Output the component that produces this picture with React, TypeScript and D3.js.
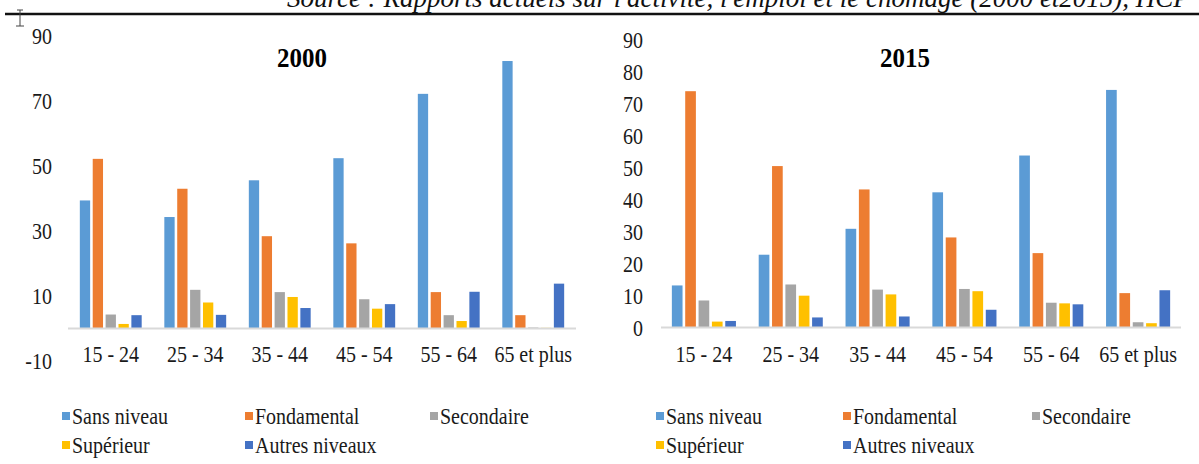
import React from "react";
import * as d3 from "d3";

const categories = ["15 - 24", "25 - 34", "35 - 44", "45 - 54", "55 - 64", "65 et plus"];
const seriesNames = ["Sans niveau", "Fondamental", "Secondaire", "Supérieur", "Autres niveaux"];
const seriesColors = ["#5B9BD5", "#ED7D31", "#A5A5A5", "#FFC000", "#4472C4"];

// 2000
const sans2000 = [39.4, 34.3, 45.6, 52.4, 72.2, 82.3];
const fond2000 = [52.2, 43.0, 28.4, 26.2, 11.2, 4.1];
const sec2000 = [4.3, 11.9, 11.2, 9.0, 4.1, 0.3];
const sup2000 = [1.4, 8.0, 9.7, 6.1, 2.3, 0.2];
const autres2000 = [4.1, 4.2, 6.3, 7.5, 11.3, 13.8];

// 2015
const sans2015 = [13.3, 22.9, 31.0, 42.4, 53.9, 74.4];
const fond2015 = [74.0, 50.6, 43.3, 28.3, 23.4, 10.9];
const sec2015 = [8.6, 13.6, 12.0, 12.2, 7.9, 1.8];
const sup2015 = [2.0, 10.1, 10.5, 11.5, 7.7, 1.5];
const autres2015 = [2.2, 3.3, 3.6, 5.7, 7.4, 11.8];

const ticks2000 = [90, 70, 50, 30, 10, -10];
const ticks2015 = [90, 80, 70, 60, 50, 40, 30, 20, 10, 0];

const sourceText = "Source : Rapports actuels sur l'activité, l'emploi et le chômage (2000 et2015), HCP";

const FONT = "Liberation Serif, DejaVu Serif, serif";
const SY = 1.12;

function T({ x, y, children, anchor = "start", size = 20, weight = 400, style = "normal", fill = "#000" }: any) {
  return (
    <text
      transform={`translate(${x},${y}) scale(1,${SY})`}
      textAnchor={anchor}
      dy="0.35em"
      style={{ fontFamily: FONT, fontSize: size, fontWeight: weight, fontStyle: style }}
      fill={fill}
    >
      {children}
    </text>
  );
}

function Panel({ title, data, domain, rangeY, ticks, xRange, tickX, titleX, axisY, outer, inner, legendX }: any) {
  const x0 = d3.scaleBand<string>().domain(categories).range(xRange).paddingInner(inner).paddingOuter(outer);
  const x1 = d3.scaleBand<string>().domain(seriesNames).range([0, x0.bandwidth()]).paddingInner(0.2).paddingOuter(0);
  const y = d3.scaleLinear().domain(domain).range(rangeY);
  const legendCols = [legendX[0], legendX[1], legendX[2]];
  return (
    <g>
      <T x={titleX} y={57} anchor="middle" size={25} weight={700}>{title}</T>
      {ticks.map((t: number) => (
        <T key={t} x={tickX} y={y(t)} anchor="end" size={20} fill="#1a1a1a">{t}</T>
      ))}
      {categories.map((c, ci) => (
        <g key={c}>
          {seriesNames.map((s, si) => {
            const v = data[si][ci];
            const top = y(Math.max(0, v));
            const h = Math.abs(y(v) - y(0));
            return (
              <rect key={s} x={(x0(c) as number) + (x1(s) as number)} y={top} width={x1.bandwidth()} height={h} fill={seriesColors[si]} />
            );
          })}
          <T x={(x0(c) as number) + x0.bandwidth() / 2} y={354} anchor="middle" size={20} fill="#1a1a1a">{c}</T>
        </g>
      ))}
      <line x1={xRange[0]} x2={xRange[1]} y1={axisY} y2={axisY} stroke="#d9d9d9" strokeWidth={2} />
      {seriesNames.map((s, si) => {
        const col = si % 3;
        const row = Math.floor(si / 3);
        const lx = legendCols[col];
        const ly = 416 + row * 29;
        return (
          <g key={s}>
            <rect x={lx} y={ly - 4} width={8} height={8} fill={seriesColors[si]} />
            <T x={lx + 10} y={ly} size={20} fill="#1a1a1a">{s}</T>
          </g>
        );
      })}
    </g>
  );
}

export default function App() {
  const data2000 = [sans2000, fond2000, sec2000, sup2000, autres2000];
  const data2015 = [sans2015, fond2015, sec2015, sup2015, autres2015];
  return (
    <svg width={1199} height={464} style={{ position: "absolute", left: 0, top: 0, background: "#fff" }}>
      <rect x={0} y={0} width={1199} height={464} fill="#fff" />
      <text x={287} y={7} style={{ fontFamily: FONT, fontSize: 27, fontStyle: "italic" }} fill="#111">{sourceText}</text>
      <line x1={5} x2={1199} y1={14} y2={14} stroke="#111" strokeWidth={2.5} />
      <g stroke="#444" strokeWidth={1}>
        <line x1={20} x2={20} y1={10} y2={26} />
        <line x1={17} x2={23} y1={10} y2={10} />
        <line x1={16} x2={24} y1={26} y2={26} />
      </g>
      <Panel
        title="2000"
        data={data2000}
        domain={[-10, 90]}
        rangeY={[361, 36]}
        ticks={ticks2000}
        xRange={[68, 576]}
        tickX={52}
        titleX={302}
        axisY={328.5}
        inner={0.268}
        outer={0.14}
        legendX={[62, 245, 430]}
      />
      <Panel
        title="2015"
        data={data2015}
        domain={[0, 90]}
        rangeY={[328, 40]}
        ticks={ticks2015}
        xRange={[661, 1181]}
        tickX={643}
        titleX={905}
        axisY={327.5}
        inner={0.262}
        outer={0.125}
        legendX={[656, 843, 1032]}
      />
    </svg>
  );
}
